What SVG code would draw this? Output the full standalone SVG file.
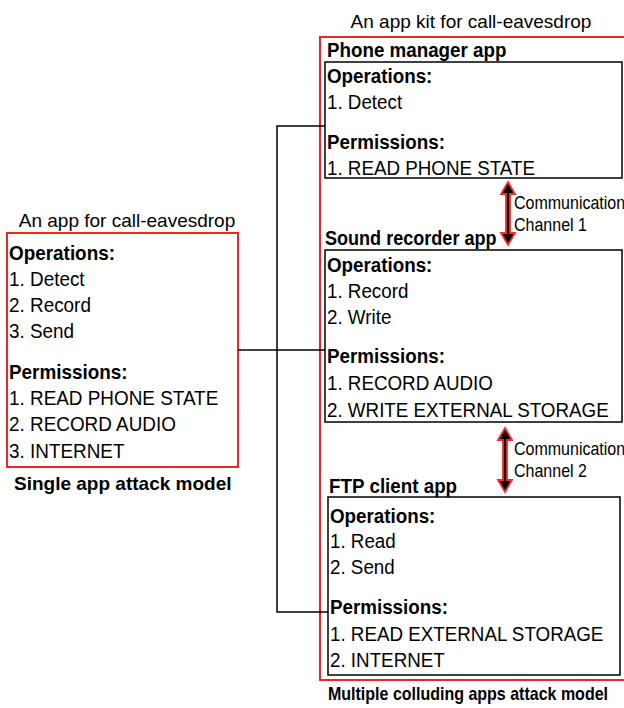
<svg xmlns="http://www.w3.org/2000/svg" width="624" height="708" viewBox="0 0 624 708">
<style>
text{font-family:"Liberation Sans Narrow","Liberation Sans",Arial,sans-serif;fill:#000}
.t{font-size:21px}
.b{font-size:21px;font-weight:bold}
.c{font-size:18px}
.cap{font-size:19px}
.red{fill:none;stroke:#e8262b;stroke-width:2}
.box{fill:none;stroke:#000;stroke-width:1.5}
.ln{fill:none;stroke:#000;stroke-width:1.5}
.arr{fill:#000;stroke:#ff2a2a;stroke-width:1.8;stroke-linejoin:miter}
</style>
<g id="single-app">
<rect class="red" x="7" y="233" width="231" height="234"/>
<text class="cap" x="127" y="227" text-anchor="middle">An app for call-eavesdrop</text>
<g transform="translate(9,0) scale(0.9,1) translate(-9,0)">
<text class="b" x="9" y="260">Operations:</text>
<text class="t" x="9" y="286">1. Detect</text>
<text class="t" x="9" y="312">2. Record</text>
<text class="t" x="9" y="338">3. Send</text>
<text class="b" x="9" y="379">Permissions:</text>
<text class="t" x="9" y="405">1. READ PHONE STATE</text>
<text class="t" x="9" y="431">2. RECORD AUDIO</text>
<text class="t" x="9" y="458">3. INTERNET</text>
</g>
<text class="b" x="14" y="490" style="font-size:19px">Single app attack model</text>
</g>
<g id="app-kit">
<rect class="red" x="320" y="37" width="310" height="643"/>
<text class="cap" x="471" y="28" text-anchor="middle">An app kit for call-eavesdrop</text>
<g transform="translate(328,0) scale(0.89,1) translate(-328,0)">
<text class="b" x="328" y="700" style="font-size:18px">Multiple colluding apps attack model</text>
</g>
</g>
<g id="phone-manager">
<rect class="box" x="325" y="62" width="297" height="116"/>
<g transform="translate(327,0) scale(0.895,1) translate(-327,0)">
<text class="b" x="327" y="57">Phone manager app</text>
<text class="b" x="327" y="83">Operations:</text>
<text class="t" x="327" y="109">1. Detect</text>
<text class="b" x="327" y="149">Permissions:</text>
<text class="t" x="327" y="175">1. READ PHONE STATE</text>
</g>
</g>
<g id="sound-recorder">
<rect class="box" x="325" y="250" width="297" height="172"/>
<g transform="translate(325,0) scale(0.86,1) translate(-325,0)">
<text class="b" x="325" y="245">Sound recorder app</text>
</g>
<g transform="translate(327,0) scale(0.895,1) translate(-327,0)">
<text class="b" x="327" y="272">Operations:</text>
<text class="t" x="327" y="298">1. Record</text>
<text class="t" x="327" y="324">2. Write</text>
<text class="b" x="327" y="363">Permissions:</text>
<text class="t" x="327" y="390">1. RECORD AUDIO</text>
<text class="t" x="327" y="417">2. WRITE EXTERNAL STORAGE</text>
</g>
</g>
<g id="ftp-client">
<rect class="box" x="328" y="497" width="292" height="178"/>
<g transform="translate(330,0) scale(0.895,1) translate(-330,0)">
<text class="b" x="329" y="493">FTP client app</text>
<text class="b" x="330" y="523">Operations:</text>
<text class="t" x="330" y="548">1. Read</text>
<text class="t" x="330" y="574">2. Send</text>
<text class="b" x="330" y="614">Permissions:</text>
<text class="t" x="330" y="641">1. READ EXTERNAL STORAGE</text>
<text class="t" x="330" y="667">2. INTERNET</text>
</g>
</g>
<g id="channel-1">
<polygon class="arr" points="508,182 515,194 510,194 510,233 515,233 508,245 501,233 506,233 506,194 501,194"/>
<g transform="translate(514,0) scale(0.89,1) translate(-514,0)">
<text class="c" x="514" y="209">Communication</text>
<text class="c" x="514" y="231">Channel 1</text>
</g>
</g>
<g id="channel-2">
<polygon class="arr" points="505,428 512,440 507,440 507,480 512,480 505,492 498,480 503,480 503,440 498,440"/>
<g transform="translate(514,0) scale(0.89,1) translate(-514,0)">
<text class="c" x="514" y="455">Communication</text>
<text class="c" x="514" y="477">Channel 2</text>
</g>
</g>
<g id="connectors">
<polyline class="ln" points="325,126 277,126 277,612 328,612"/>
<line class="ln" x1="238" y1="350" x2="325" y2="350"/>
</g>
</svg>
